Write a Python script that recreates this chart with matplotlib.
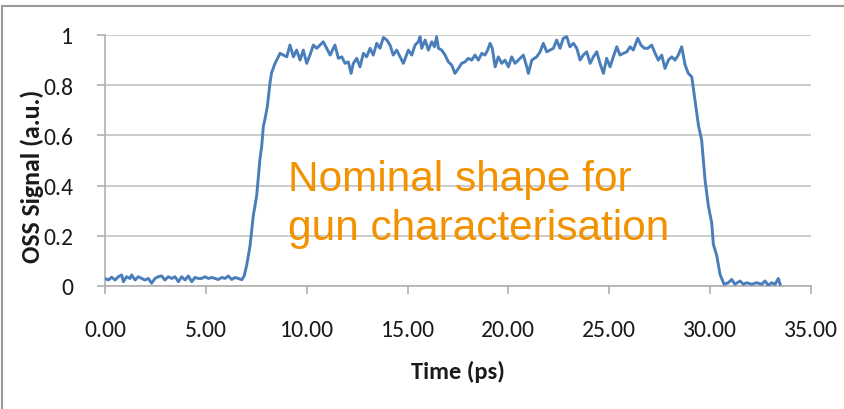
import matplotlib
matplotlib.use("Agg")
import matplotlib.pyplot as plt
from matplotlib.lines import Line2D

# Optical sampling signal vs. time
time_ps = [
    0.00, 0.17, 0.33, 0.50, 0.66, 0.83, 0.91, 1.07, 1.24, 1.32, 1.49, 1.65, 1.82, 1.98,
    2.15, 2.31, 2.48, 2.64, 2.81, 2.97, 3.14, 3.31, 3.47, 3.64, 3.80, 3.97, 4.13, 4.30,
    4.46, 4.63, 4.79, 4.96, 5.12, 5.29, 5.45, 5.62, 5.79, 5.95, 6.11, 6.28, 6.45, 6.61,
    6.78, 6.90,
    7.03, 7.19, 7.35, 7.52, 7.68, 7.77, 7.85, 7.93, 8.05, 8.18,
    8.26, 8.43, 8.68, 8.84, 9.01, 9.17, 9.34, 9.50, 9.67, 9.83, 10.00, 10.16, 10.33, 10.50,
    10.66, 10.82, 10.99, 11.16, 11.40, 11.57, 11.74, 11.90, 12.06, 12.20, 12.31, 12.48,
    12.64, 12.81, 12.97, 13.14, 13.30, 13.47, 13.63, 13.80, 13.97, 14.13, 14.29, 14.46,
    14.63, 14.79, 15.04, 15.21, 15.37, 15.53, 15.62, 15.70, 15.87, 16.03, 16.20, 16.33,
    16.44, 16.53, 16.69, 16.86, 17.02, 17.19, 17.35, 17.52, 17.68, 17.85, 18.01, 18.18,
    18.34, 18.51, 18.68, 18.84, 18.97, 19.09, 19.20, 19.34, 19.50, 19.67, 19.83, 20.00,
    20.16, 20.33, 20.49, 20.74, 20.91, 20.99, 21.16, 21.40, 21.57, 21.73, 21.90, 22.06,
    22.23, 22.39, 22.56, 22.72, 22.89, 23.05, 23.22, 23.39, 23.55, 23.71, 23.88, 24.05,
    24.21, 24.38, 24.54, 24.71, 24.87, 25.04, 25.20, 25.37, 25.53, 25.70, 25.87, 26.03,
    26.19, 26.41, 26.57, 26.74, 26.91, 27.10, 27.27, 27.43, 27.60, 27.76, 27.93, 28.10,
    28.26, 28.42, 28.59, 28.76, 28.92, 29.09,
    29.25, 29.42, 29.58, 29.75, 29.91, 30.08, 30.16, 30.33, 30.49, 30.69,
    30.90, 31.07, 31.23, 31.48, 31.65, 31.81, 32.06, 32.31, 32.56, 32.72, 32.89, 33.05,
    33.22, 33.38, 33.47,
]
oss_signal = [
    0.030, 0.024, 0.035, 0.024, 0.037, 0.044, 0.017, 0.037, 0.030, 0.044, 0.024, 0.037, 0.030, 0.024,
    0.030, 0.011, 0.030, 0.037, 0.040, 0.024, 0.037, 0.030, 0.037, 0.017, 0.037, 0.024, 0.040, 0.017,
    0.034, 0.030, 0.030, 0.037, 0.030, 0.034, 0.030, 0.026, 0.034, 0.030, 0.040, 0.026, 0.034, 0.030,
    0.025, 0.040,
    0.085, 0.160, 0.280, 0.360, 0.505, 0.557, 0.637, 0.664, 0.716, 0.810,
    0.850, 0.887, 0.927, 0.920, 0.913, 0.960, 0.913, 0.940, 0.900, 0.940, 0.887, 0.920, 0.960, 0.947,
    0.960, 0.973, 0.947, 0.920, 0.960, 0.907, 0.913, 0.887, 0.893, 0.847, 0.887, 0.907,
    0.873, 0.927, 0.913, 0.947, 0.920, 0.967, 0.947, 0.990, 0.980, 0.960, 0.920, 0.940,
    0.913, 0.887, 0.940, 0.920, 0.960, 0.973, 0.993, 0.947, 0.980, 0.940, 0.973, 0.953,
    0.993, 0.947, 0.940, 0.920, 0.893, 0.880, 0.847, 0.867, 0.887, 0.893, 0.907, 0.900,
    0.920, 0.900, 0.927, 0.920, 0.940, 0.967, 0.947, 0.873, 0.913, 0.887, 0.900, 0.873,
    0.913, 0.887, 0.900, 0.920, 0.873, 0.847, 0.900, 0.913, 0.933, 0.967, 0.933, 0.940,
    0.947, 0.980, 0.947, 0.987, 0.993, 0.953, 0.967, 0.947, 0.900, 0.920, 0.933, 0.887,
    0.913, 0.933, 0.887, 0.847, 0.907, 0.873, 0.913, 0.953, 0.920, 0.927, 0.933, 0.953,
    0.940, 0.987, 0.960, 0.947, 0.947, 0.960, 0.927, 0.900, 0.920, 0.867, 0.900, 0.913,
    0.900, 0.920, 0.953, 0.880, 0.847, 0.833,
    0.740, 0.640, 0.580, 0.420, 0.320, 0.250, 0.166, 0.120, 0.046, 0.007,
    0.013, 0.026, 0.007, 0.020, 0.007, 0.013, 0.007, 0.013, 0.007, 0.020, 0.003, 0.013,
    0.007, 0.030, 0.007,
]

x_ticks = [0, 5, 10, 15, 20, 25, 30, 35]
x_tick_labels = ["0.00", "5.00", "10.00", "15.00", "20.00", "25.00", "30.00", "35.00"]
y_ticks = [0, 0.2, 0.4, 0.6, 0.8, 1.0]
y_tick_labels = ["0", "0.2", "0.4", "0.6", "0.8", "1"]

label_font = ["Carlito", "Lato", "DejaVu Sans"]
note_font = ["Liberation Sans", "DejaVu Sans"]
line_color = "#4a7ebb"
grid_color = "#c4c4c4"
note_color = "#f39200"
text_color = "#1a1a1a"

fig = plt.figure(figsize=(8.45, 4.10), dpi=100)
ax = fig.add_axes([105 / 845, 1 - 287 / 410, (811 - 105) / 845, (287 - 36) / 410])

ax.plot(time_ps, oss_signal, color=line_color, lw=2.1, solid_joinstyle="round", zorder=3)

ax.set_xlim(0, 35)
ax.set_ylim(0, 1)
ax.set_xticks(x_ticks)
ax.set_xticklabels(x_tick_labels, family=label_font, fontsize=17)
ax.set_yticks(y_ticks)
ax.set_yticklabels(y_tick_labels, family=label_font, fontsize=17)
ax.yaxis.grid(True, color=grid_color, lw=1.2)
ax.set_axisbelow(True)

for side in ("top", "right"):
    ax.spines[side].set_visible(False)
for side in ("left", "bottom"):
    ax.spines[side].set_color("#b0b0b0")
    ax.spines[side].set_linewidth(1.2)
ax.tick_params(axis="both", direction="out", length=6, width=1.2, color="#b0b0b0",
               labelcolor=text_color)
ax.tick_params(axis="x", pad=18)
ax.tick_params(axis="y", pad=17)

ax.set_xlabel("Time (ps)", family=label_font, fontsize=17.5, fontweight="bold",
              color=text_color, labelpad=14)
ax.set_ylabel("OSS Signal (a.u.)", family=label_font, fontsize=18.5, fontweight="bold",
              color=text_color)
ax.yaxis.set_label_coords(-0.086, 0.44)

ax.text(9.07, 0.382, "Nominal shape for", family=note_font, fontsize=30.5,
        color=note_color, va="baseline", ha="left", zorder=4)
ax.text(9.07, 0.187, "gun characterisation", family=note_font, fontsize=30.5,
        color=note_color, va="baseline", ha="left", zorder=4)

# Chart frame edges
fig.add_artist(Line2D([0.002, 1.0], [1 - 7 / 410, 1 - 7 / 410], transform=fig.transFigure,
                      color="#9a9a9a", lw=1.5))
fig.add_artist(Line2D([0.002, 0.002], [0.0, 1 - 7 / 410], transform=fig.transFigure,
                      color="#9a9a9a", lw=1.5))

fig.savefig("out.png", dpi=100, facecolor="white")
